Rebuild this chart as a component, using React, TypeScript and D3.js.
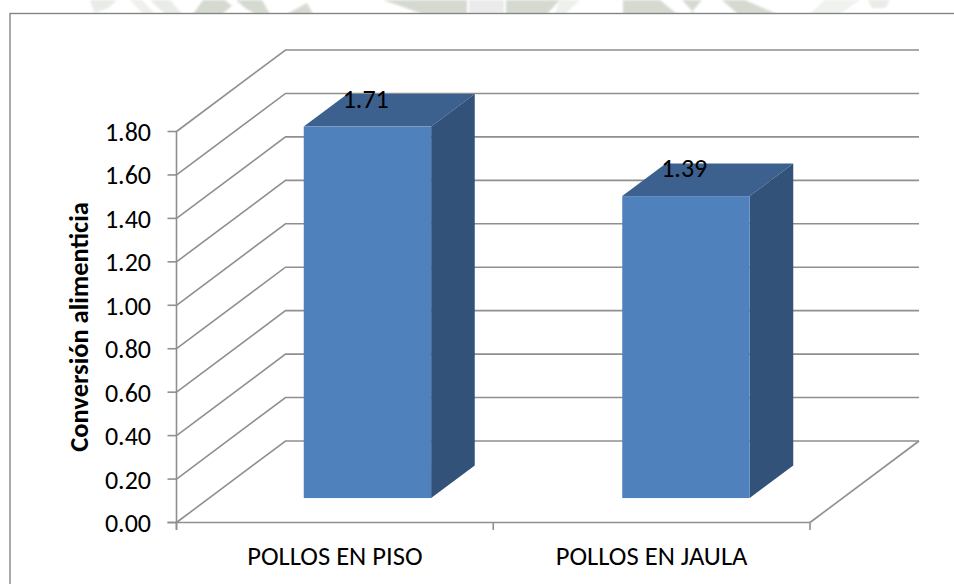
import React from "react";
import * as d3 from "d3";

const categories = ["POLLOS EN PISO", "POLLOS EN JAULA"];
const values = [1.71, 1.39];
const yTicks = [0, 0.2, 0.4, 0.6, 0.8, 1.0, 1.2, 1.4, 1.6, 1.8];

const W = 954, H = 584;
const FONT = "Carlito, Calibri, Lato, 'Open Sans', sans-serif";
const GRID = "#8f8f8f";
const dx = 109, dy = -81.5;
const y = d3.scaleLinear().domain([0, 1.8]).range([522.5, 131.5]);
const x = d3.scaleBand<string>().domain(categories).range([176.5, 810]);
const xBar = d3.scaleBand<string>().domain(categories).range([175.5, 812.5]);

export default function App() {
  const x0 = 176.5, x1 = 810;
  const band = x.bandwidth();
  const bandBar = xBar.bandwidth();
  return (
    <svg width={W} height={H} viewBox={`0 0 ${W} ${H}`} style={{ position: "absolute", left: 0, top: 0, background: "#fff" }}>
      <defs>
        <filter id="soft" x="-5%" y="-50%" width="110%" height="200%">
          <feGaussianBlur stdDeviation="1" />
        </filter>
      </defs>
      <g fill="#d5dad1" filter="url(#soft)">
        <path d="M90,0L117,0L108,8L95,13L92,6Z" fill="#e8ebe6" />
        <path d="M130,0L142,0L155,14L143,14Z" fill="#eef0ec" />
        <path d="M150,0L170,0L182,14L165,14Z" fill="#e9ebe7" />
        <path d="M193,14L203,0L225,0L232,6L222,14Z" />
        <path d="M236,0L262,0L270,14L255,14L245,8Z" />
        <path d="M287,14L307,3L313,14Z" />
        <path d="M383,0L467,0L467,14L423,14Z" />
        <path d="M469,0L504,0L504,14L469,14Z" fill="#ebebeb" />
        <path d="M506,0L560,0L547,14L506,14Z" />
        <path d="M560,0L580,0L565,14L555,14Z" fill="#eef0ec" />
        <path d="M623,0L660,0L677,14L623,14Z" />
        <path d="M682,0L702,0L690,14L695,14Z" />
        <path d="M722,0L745,0L777,14L738,14Z" />
        <path d="M810,14L825,0L860,0L840,14Z" fill="#f0f2ee" />
        <path d="M868,0L890,0L885,8L872,8Z" fill="#e8ebe6" />
      </g>
      <rect x={10} y={13.5} width={950} height={580} fill="#fff" stroke="#858585" strokeWidth={1.4} />
      {yTicks.map((t) => (
        <polyline key={t} points={`${x0},${y(t)} ${x0 + dx},${y(t) + dy} ${x1 + dx},${y(t) + dy}`} fill="none" stroke={GRID} strokeWidth={1.6} />
      ))}
      <line x1={x1} y1={y(0)} x2={x1 + dx} y2={y(0) + dy} stroke={GRID} strokeWidth={1.6} />
      <line x1={x0} y1={y(1.8)} x2={x0} y2={530} stroke={GRID} strokeWidth={1.6} />
      <line x1={x0 - 9} y1={y(0)} x2={x1} y2={y(0)} stroke={GRID} strokeWidth={1.6} />
      {yTicks.map((t) => (
        <g key={t}>
          <line x1={x0 - 9} y1={y(t)} x2={x0} y2={y(t)} stroke={GRID} strokeWidth={1.6} />
          <text x={151} y={y(t) + 9.5} textAnchor="end" fontFamily={FONT} fontSize={26} fill="#000">{t.toFixed(2)}</text>
        </g>
      ))}
      {[x0, x0 + band, x1].map((v) => (
        <line key={v} x1={v} y1={y(0)} x2={v} y2={530} stroke={GRID} strokeWidth={1.6} />
      ))}
      {categories.map((c, i) => {
        const bx = (xBar(c) as number) + bandBar * 0.3 + dx * 0.3;
        const bw = bandBar * 0.4;
        const by = y(0) + dy * 0.3;
        const h = y(0) - y(values[i]);
        const ty = by - h;
        const ox = dx * 0.4, oy = dy * 0.4;
        return (
          <g key={c}>
            <path d={`M${bx},${ty}L${bx + ox},${ty + oy}L${bx + bw + ox},${ty + oy}L${bx + bw},${ty}Z`} fill="#3c618f" />
            <path d={`M${bx + bw},${ty}L${bx + bw + ox},${ty + oy}L${bx + bw + ox},${by + oy}L${bx + bw},${by}Z`} fill="#32527a" />
            <rect x={bx} y={ty} width={bw} height={h} fill="#4f81bd" />
            <text x={bx + 62} y={ty - 19} textAnchor="middle" fontFamily={FONT} fontSize={26} fill="#000">{values[i].toFixed(2)}</text>
            <text x={(x(c) as number) + band / 2} y={565} textAnchor="middle" fontFamily={FONT} fontSize={26.6} fill="#000">{c}</text>
          </g>
        );
      })}
      <text transform="translate(88,327) rotate(-90)" textAnchor="middle" fontFamily={FONT} fontSize={26.5} fontWeight="bold" fill="#000">Conversión alimenticia</text>
    </svg>
  );
}
